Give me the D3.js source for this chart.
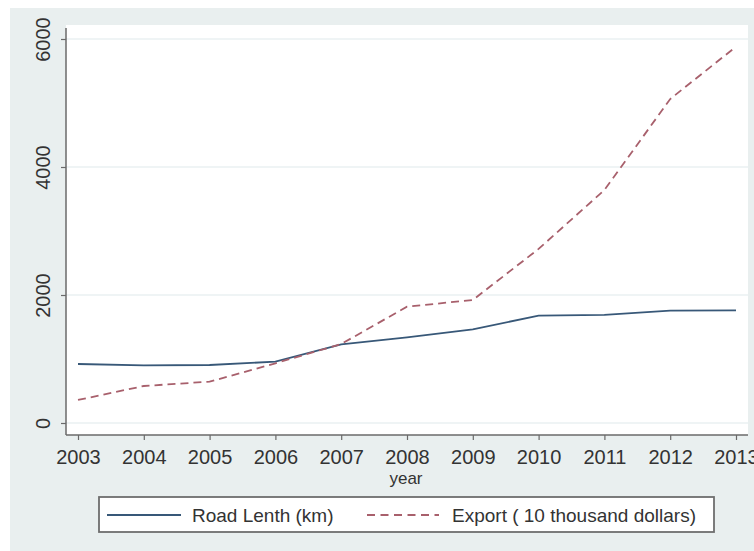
<!DOCTYPE html>
<html>
<head>
<meta charset="utf-8">
<script src="https://cdn.jsdelivr.net/npm/d3@7"></script>
<style>
  html, body { margin: 0; padding: 0; background: #ffffff; }
  svg { display: block; }
  text { font-family: "Liberation Sans", Arial, sans-serif; fill: #333333; }
</style>
</head>
<body>
<svg id="chart" width="754" height="551"></svg>
<script>
// Years on the horizontal axis
const years = [2003, 2004, 2005, 2006, 2007, 2008, 2009, 2010, 2011, 2012, 2013];
// Road length (km)
const roadLength = [922, 901, 906, 958, 1230, 1339, 1464, 1677, 1688, 1755, 1761];
// Export (10 thousand dollars)
const exportValue = [360, 578, 646, 933, 1234, 1817, 1922, 2720, 3640, 5062, 5880];
// Axis tick values
const yTicks = [0, 2000, 4000, 6000];
const xTicks = years;

const seriesNames = ["Road Lenth (km)", "Export ( 10 thousand dollars)"];

const svg = d3.select("#chart");

// graph region background
svg.append("rect")
  .attr("x", 10).attr("y", 8)
  .attr("width", 744).attr("height", 543)
  .attr("fill", "#e9efef");

// plot region
const plot = { left: 66, right: 748, top: 25, bottom: 435 };
svg.append("rect")
  .attr("x", plot.left).attr("y", plot.top)
  .attr("width", plot.right - plot.left).attr("height", plot.bottom - plot.top)
  .attr("fill", "#ffffff");

const x = d3.scaleLinear().domain([2003, 2013]).range([78, 736]);
const y = d3.scaleLinear().domain([0, 6000]).range([423, 39]);

// horizontal gridlines
svg.append("g")
  .selectAll("line")
  .data(yTicks)
  .join("line")
  .attr("x1", plot.left).attr("x2", plot.right)
  .attr("y1", d => y(d)).attr("y2", d => y(d))
  .attr("stroke", "#eaf1f2")
  .attr("stroke-width", 1.5);

// y axis
const yAxis = svg.append("g")
  .attr("transform", `translate(${plot.left},0)`)
  .call(d3.axisLeft(y).tickValues(yTicks).tickSize(5).tickPadding(0).tickFormat(d3.format("d")));
yAxis.select(".domain")
  .attr("d", `M0,${plot.top + 3}V${plot.bottom}`)
  .attr("stroke", "#6a6a6a").attr("stroke-width", 1.5);
yAxis.selectAll(".tick line").attr("stroke", "#6a6a6a").attr("stroke-width", 1.2);
yAxis.selectAll(".tick text")
  .attr("x", null).attr("dy", null)
  .attr("transform", "translate(-16,0) rotate(-90)")
  .attr("text-anchor", "middle")
  .attr("font-size", 20)
  .style("font-family", "Liberation Sans, Arial, sans-serif")
  .attr("fill", "#333333");

// x axis
const xAxis = svg.append("g")
  .attr("transform", `translate(0,${plot.bottom})`)
  .call(d3.axisBottom(x).tickValues(xTicks).tickSize(5).tickPadding(0).tickFormat(d3.format("d")));
xAxis.select(".domain")
  .attr("d", `M${plot.left},0H${plot.right}`)
  .attr("stroke", "#6a6a6a").attr("stroke-width", 1.5);
xAxis.selectAll(".tick line").attr("stroke", "#6a6a6a").attr("stroke-width", 1.2);
xAxis.selectAll(".tick text")
  .attr("y", 29).attr("dy", null)
  .attr("font-size", 20)
  .style("font-family", "Liberation Sans, Arial, sans-serif")
  .attr("fill", "#333333");

// axis title
svg.append("text")
  .attr("x", 406).attr("y", 484)
  .attr("text-anchor", "middle")
  .attr("font-size", 17)
  .text("year");

// series lines
const line = d3.line().x((d, i) => x(years[i])).y(d => y(d));

svg.append("path")
  .datum(roadLength)
  .attr("d", line)
  .attr("fill", "none")
  .attr("stroke", "#385878")
  .attr("stroke-width", 1.8);

svg.append("path")
  .datum(exportValue)
  .attr("d", line)
  .attr("fill", "none")
  .attr("stroke", "#a8606c")
  .attr("stroke-width", 1.8)
  .attr("stroke-dasharray", "8,5");

// legend
const legend = svg.append("g");
legend.append("rect")
  .attr("x", 99).attr("y", 497)
  .attr("width", 615).attr("height", 35)
  .attr("fill", "#ffffff")
  .attr("stroke", "#6e6e6e")
  .attr("stroke-width", 1.8);

const legendItems = [
  { name: seriesNames[0], x1: 107, x2: 181, tx: 192, color: "#385878", dash: null },
  { name: seriesNames[1], x1: 367, x2: 439, tx: 452, color: "#a8606c", dash: "8,5.5" }
];
legendItems.forEach(it => {
  legend.append("line")
    .attr("x1", it.x1).attr("x2", it.x2)
    .attr("y1", 515).attr("y2", 515)
    .attr("stroke", it.color)
    .attr("stroke-width", 1.8)
    .attr("stroke-dasharray", it.dash);
  legend.append("text")
    .attr("x", it.tx).attr("y", 522)
    .attr("font-size", 19)
    .text(it.name);
});
</script>
</body>
</html>
